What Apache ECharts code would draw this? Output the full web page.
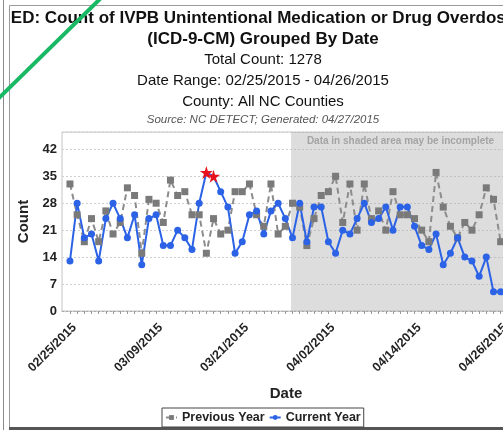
<!DOCTYPE html>
<html>
<head>
<meta charset="utf-8">
<script src="https://cdn.jsdelivr.net/npm/echarts@6/dist/echarts.min.js"></script>
<style>
  html, body { margin: 0; padding: 0; background: #fff; }
  #main { width: 503px; height: 430px; }
</style>
</head>
<body>
<div id="main"></div>
<script>
// daily counts, 02/25/2015 .. 04/26/2015 (61 days)
const previousYear = [33, 25, 18, 24, 18, 26, 20, 23, 32, 30, 15, 29, 28, 23, 34, 30, 31, 25, 25, 15,
  24, 20, 21, 31, 31, 33, 25, 22, 33, 20, 22, 28, 27, 17, 24, 30, 31, 35, 23, 33,
  21, 33, 24, 26, 21, 31, 25, 25, 24, 21, 18, 36, 27, 22, 19, 23, 21, 25, 32, 29, 18];
const currentYear = [13, 28, 19, 20, 13, 24, 28, 24, 19, 25, 12, 24, 25, 17, 17, 21, 19, 16, 28, 36,
  35, 31, 27, 15, 18, 25, 26, 20, 26, 28, 24, 19, 28, 18, 27, 27, 18, 15, 21, 20,
  24, 28, 23, 24, 27, 21, 27, 27, 22, 17, 16, 20, 12, 15, 19, 14, 13, 9, 14, 5, 5];
const alertDays = [19, 20];
const tickDays = [0, 12, 24, 36, 48, 60];
const tickLabels = ['02/25/2015', '03/09/2015', '03/21/2015', '04/02/2015', '04/14/2015', '04/26/2015'];
const yTicks = [0, 7, 14, 21, 28, 35, 42];
const shadeFrom = 30.8;

const star = 'path://M50,0 L61,35 L98,35 L68,57 L79,91 L50,70 L21,91 L32,57 L2,35 L39,35 Z';
const allDays = previousYear.map((v, i) => i);

const prevData = previousYear.map((v, i) => [i, v]);
const currData = currentYear.map((v, i) => {
  if (alertDays.indexOf(i) >= 0) {
    return { value: [i, v], symbol: star, symbolSize: 13, itemStyle: { color: '#e8101c' } };
  }
  return [i, v];
});

const ctr = 263;
function label(text, y, font, color) {
  return {
    type: 'text', z: 10,
    style: { text: text, x: ctr, y: y, align: 'center', verticalAlign: 'middle', font: font, fill: color || '#111' }
  };
}

let myChart = echarts.init(document.getElementById('main'));
myChart.setOption({
  animation: false,
  backgroundColor: '#fff',
  grid: {
    left: 62, top: 132, width: 448, height: 179,
    outerBoundsMode: 'none', containLabel: false,
    show: true, backgroundColor: '#fff', borderColor: '#c4c4c4', borderWidth: 1
  },
  graphic: [
    label('ED: Count of IVPB Unintentional Medication or Drug Overdose', 18, 'bold 17px "Liberation Sans", Arial'),
    label('(ICD-9-CM) Grouped By Date', 39, 'bold 17px "Liberation Sans", Arial'),
    label('Total Count: 1278', 60, '15px "Liberation Sans", Arial'),
    label('Date Range: 02/25/2015 - 04/26/2015', 81, '15px "Liberation Sans", Arial'),
    label('County: All NC Counties', 102, '15px "Liberation Sans", Arial'),
    label('Source: NC DETECT; Generated: 04/27/2015', 120, 'italic 11.5px "Liberation Sans", Arial', '#555'),
    { type: 'line', z: 1, shape: { x1: 3.5, y1: 0, x2: 3.5, y2: 430 }, style: { stroke: '#8a8a8a', lineWidth: 1 } },
    { type: 'rect', z: 1, shape: { x: 9.5, y: 5.5, width: 520, height: 422 }, style: { fill: null, stroke: '#9a9a9a', lineWidth: 1 } },
    { type: 'line', z: 1, shape: { x1: 9, y1: 428.5, x2: 503, y2: 428.5 }, style: { stroke: '#555', lineWidth: 3 } },
    { type: 'line', z: 100, shape: { x1: -2, y1: 99, x2: 101, y2: -2 }, style: { stroke: '#19b865', lineWidth: 4 } }
  ],
  legend: {
    left: 162, top: 408,
    padding: [3, 3],
    borderColor: '#444', borderWidth: 1,
    backgroundColor: '#fff',
    itemGap: 4, itemWidth: 11, itemHeight: 6,
    textStyle: { fontWeight: 'bold', fontSize: 12.5, color: '#222', fontFamily: 'Liberation Sans' },
    data: ['Previous Year', 'Current Year']
  },
  xAxis: {
    type: 'value', min: -1.11, max: 61.3,
    name: 'Date', nameLocation: 'middle', nameGap: 75,
    nameTextStyle: { fontWeight: 'bold', fontSize: 15, color: '#222', fontFamily: 'Liberation Sans' },
    splitLine: { show: false },
    axisLine: { show: true, lineStyle: { color: '#aaa', type: [2, 2] } },
    axisTick: { show: true, length: 3, customValues: allDays, lineStyle: { color: '#999' } },
    axisLabel: {
      customValues: tickDays, rotate: 45, margin: 10, verticalAlign: 'top',
      fontWeight: 'bold', fontSize: 12.5, color: '#222', fontFamily: 'Liberation Sans',
      formatter: v => tickLabels[tickDays.indexOf(v)]
    }
  },
  yAxis: {
    type: 'value', min: 0, max: 46.5, interval: 7,
    name: 'Count', nameLocation: 'middle', nameGap: 26, nameRotate: 90,
    nameTextStyle: { fontWeight: 'bold', fontSize: 15, color: '#222', fontFamily: 'Liberation Sans' },
    axisLine: { show: false },
    axisTick: { show: false },
    axisLabel: {
      showMaxLabel: false, margin: 5,
      fontWeight: 'bold', fontSize: 13, color: '#222', fontFamily: 'Liberation Sans',
      formatter: v => (yTicks.indexOf(v) >= 0 ? String(v) : '')
    },
    splitLine: { lineStyle: { color: '#cfcfcf', type: [2, 2] } }
  },
  series: [
    {
      name: 'Previous Year', type: 'line', data: prevData,
      symbol: 'rect', symbolSize: 7,
      itemStyle: { color: '#7a7a7a' },
      lineStyle: { color: '#8c8c8c', width: 2, type: [6, 4] },
      markArea: {
        silent: true,
        itemStyle: { color: 'rgba(170,170,170,0.4)' },
        label: {
          show: true, position: 'insideTop', distance: 4,
          color: '#a4a4a4', fontSize: 10, fontWeight: 'bold', fontFamily: 'Liberation Sans'
        },
        data: [[{ name: 'Data in shaded area may be incomplete', xAxis: shadeFrom }, { xAxis: 61.3 }]]
      }
    },
    {
      name: 'Current Year', type: 'line', data: currData,
      symbol: 'circle', symbolSize: 7,
      itemStyle: { color: '#2b62e6' },
      lineStyle: { color: '#2b62e6', width: 2 }
    }
  ]
});
</script>
</body>
</html>
